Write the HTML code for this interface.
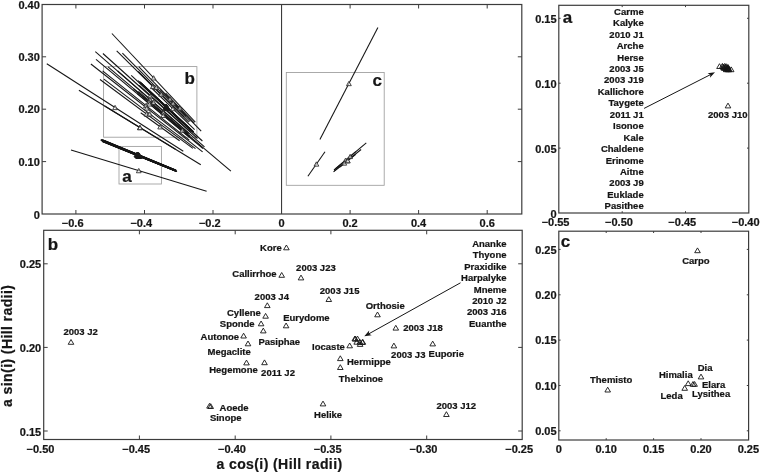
<!DOCTYPE html><html><head><meta charset="utf-8"><style>html,body{margin:0;padding:0;background:#fff}svg{display:block;will-change:transform;filter:grayscale(1)}text{font-family:"Liberation Sans",sans-serif;font-weight:bold}</style></head><body><svg width="760" height="472" viewBox="0 0 760 472"><rect width="760" height="472" fill="#fff"/><g fill="none" stroke="#9c9c9c" stroke-width="0.85">
<rect x="103.6" y="66.6" width="93.3" height="70.6"/>
<rect x="119" y="146.4" width="42.4" height="37.6"/>
<rect x="286.3" y="72.5" width="97.9" height="112.8"/>
</g>
<g stroke-linecap="butt"><line x1="195.3" y1="122.2" x2="111.9" y2="33.5" stroke="#151515" stroke-width="1.06"/><line x1="188.8" y1="122.2" x2="116.7" y2="50.8" stroke="#151515" stroke-width="1.06"/><line x1="190.1" y1="121.5" x2="122.4" y2="53.1" stroke="#151515" stroke-width="1.06"/><line x1="197.5" y1="138.5" x2="102.9" y2="53.5" stroke="#151515" stroke-width="1.06"/><line x1="184.1" y1="116.9" x2="138.3" y2="71.3" stroke="#151515" stroke-width="1.06"/><line x1="204.5" y1="146.9" x2="95.3" y2="51.7" stroke="#151515" stroke-width="1.06"/><line x1="190.2" y1="136.5" x2="108.0" y2="66.9" stroke="#151515" stroke-width="1.06"/><line x1="189.4" y1="133.6" x2="117.7" y2="71.0" stroke="#151515" stroke-width="1.06"/><line x1="203.0" y1="148.5" x2="96.0" y2="59.3" stroke="#151515" stroke-width="1.06"/><line x1="189.3" y1="140.2" x2="102.6" y2="70.8" stroke="#151515" stroke-width="1.06"/><line x1="202.6" y1="151.9" x2="90.9" y2="64.0" stroke="#151515" stroke-width="1.06"/><line x1="192.9" y1="148.4" x2="100.0" y2="79.5" stroke="#151515" stroke-width="1.06"/><line x1="195.5" y1="148.6" x2="103.9" y2="79.1" stroke="#151515" stroke-width="1.06"/><line x1="201.2" y1="131.1" x2="138.7" y2="66.6" stroke="#151515" stroke-width="1.06"/><line x1="186.2" y1="116.3" x2="160.2" y2="89.7" stroke="#151515" stroke-width="1.06"/><line x1="194.6" y1="129.7" x2="151.1" y2="87.5" stroke="#151515" stroke-width="1.06"/><line x1="194.1" y1="122.8" x2="165.6" y2="93.1" stroke="#151515" stroke-width="1.06"/><line x1="190.6" y1="131.8" x2="139.3" y2="85.4" stroke="#151515" stroke-width="1.06"/><line x1="188.1" y1="133.9" x2="138.4" y2="91.3" stroke="#151515" stroke-width="1.06"/><line x1="189.3" y1="137.1" x2="137.2" y2="93.7" stroke="#151515" stroke-width="1.06"/><line x1="200.8" y1="164.7" x2="78.9" y2="90.3" stroke="#151515" stroke-width="1.06"/><line x1="175.4" y1="149.2" x2="104.7" y2="106.0" stroke="#151515" stroke-width="1.06"/><line x1="179.6" y1="140.7" x2="140.7" y2="112.8" stroke="#151515" stroke-width="1.06"/><line x1="230.9" y1="171.2" x2="133.6" y2="89.0" stroke="#151515" stroke-width="1.06"/><line x1="183.3" y1="151.2" x2="46.8" y2="63.8" stroke="#151515" stroke-width="1.06"/><line x1="193.6" y1="132.2" x2="138.1" y2="80.6" stroke="#151515" stroke-width="1.06"/><line x1="192.8" y1="131.2" x2="139.8" y2="81.7" stroke="#151515" stroke-width="1.06"/><line x1="192.7" y1="132.0" x2="139.7" y2="82.9" stroke="#151515" stroke-width="1.06"/><line x1="193.2" y1="132.0" x2="140.4" y2="82.9" stroke="#151515" stroke-width="1.06"/><line x1="193.6" y1="132.0" x2="141.0" y2="82.9" stroke="#151515" stroke-width="1.06"/><line x1="202.4" y1="141.0" x2="131.2" y2="75.3" stroke="#151515" stroke-width="1.06"/><line x1="191.4" y1="130.1" x2="140.5" y2="82.8" stroke="#151515" stroke-width="1.06"/><line x1="193.5" y1="132.0" x2="140.9" y2="83.0" stroke="#151515" stroke-width="1.06"/><line x1="319.9" y1="139.6" x2="377.9" y2="27.4" stroke="#151515" stroke-width="1.06"/><line x1="307.9" y1="176.2" x2="325.0" y2="151.7" stroke="#151515" stroke-width="1.06"/><line x1="335.3" y1="168.9" x2="355.8" y2="151.7" stroke="#151515" stroke-width="1.06"/><line x1="334.0" y1="170.0" x2="366.3" y2="142.9" stroke="#151515" stroke-width="1.06"/><line x1="333.5" y1="171.9" x2="361.1" y2="149.5" stroke="#151515" stroke-width="1.06"/><line x1="339.9" y1="167.1" x2="355.8" y2="154.3" stroke="#151515" stroke-width="1.06"/><line x1="334.2" y1="171.2" x2="354.3" y2="154.9" stroke="#151515" stroke-width="1.06"/><line x1="174.3" y1="170.2" x2="100.8" y2="140.1" stroke="#151515" stroke-width="1.3"/><line x1="175.9" y1="170.5" x2="100.8" y2="139.6" stroke="#151515" stroke-width="1.3"/><line x1="174.7" y1="170.2" x2="102.3" y2="140.4" stroke="#151515" stroke-width="1.3"/><line x1="174.2" y1="170.1" x2="103.2" y2="141.1" stroke="#151515" stroke-width="1.3"/><line x1="175.7" y1="170.9" x2="101.9" y2="140.9" stroke="#151515" stroke-width="1.3"/><line x1="176.1" y1="170.4" x2="101.8" y2="139.7" stroke="#151515" stroke-width="1.3"/><line x1="174.7" y1="170.1" x2="103.5" y2="140.8" stroke="#151515" stroke-width="1.3"/><line x1="174.9" y1="170.6" x2="103.6" y2="141.6" stroke="#151515" stroke-width="1.3"/><line x1="176.5" y1="171.5" x2="102.2" y2="141.4" stroke="#151515" stroke-width="1.3"/><line x1="176.1" y1="170.3" x2="102.8" y2="140.0" stroke="#151515" stroke-width="1.3"/><line x1="174.8" y1="170.1" x2="104.3" y2="141.2" stroke="#151515" stroke-width="1.3"/><line x1="175.7" y1="170.8" x2="103.7" y2="141.3" stroke="#151515" stroke-width="1.3"/><line x1="176.9" y1="171.5" x2="102.6" y2="141.3" stroke="#151515" stroke-width="1.3"/><line x1="175.9" y1="170.4" x2="103.9" y2="140.6" stroke="#151515" stroke-width="1.3"/><line x1="175.1" y1="170.3" x2="104.8" y2="141.5" stroke="#151515" stroke-width="1.3"/><line x1="176.5" y1="171.2" x2="103.6" y2="141.4" stroke="#151515" stroke-width="1.3"/><line x1="177.0" y1="171.5" x2="103.2" y2="141.4" stroke="#151515" stroke-width="1.3"/><line x1="176.0" y1="170.9" x2="105.4" y2="142.0" stroke="#151515" stroke-width="1.3"/><line x1="206.6" y1="191.2" x2="71.0" y2="150.0" stroke="#151515" stroke-width="1.06"/></g>
<g><path d="M151.22 80.01L153.62 75.71L156.02 80.01Z" fill="#fff" fill-opacity="0.6" stroke="#262626" stroke-width="0.85" stroke-linejoin="miter"/><path d="M150.38 88.63L152.78 84.33L155.18 88.63Z" fill="#fff" fill-opacity="0.6" stroke="#262626" stroke-width="0.85" stroke-linejoin="miter"/><path d="M153.83 89.44L156.23 85.14L158.63 89.44Z" fill="#fff" fill-opacity="0.6" stroke="#262626" stroke-width="0.85" stroke-linejoin="miter"/><path d="M147.80 98.12L150.20 93.82L152.60 98.12Z" fill="#fff" fill-opacity="0.6" stroke="#262626" stroke-width="0.85" stroke-linejoin="miter"/><path d="M158.81 96.21L161.21 91.91L163.61 96.21Z" fill="#fff" fill-opacity="0.6" stroke="#262626" stroke-width="0.85" stroke-linejoin="miter"/><path d="M147.50 101.45L149.90 97.15L152.30 101.45Z" fill="#fff" fill-opacity="0.6" stroke="#262626" stroke-width="0.85" stroke-linejoin="miter"/><path d="M146.69 103.83L149.09 99.53L151.49 103.83Z" fill="#fff" fill-opacity="0.6" stroke="#262626" stroke-width="0.85" stroke-linejoin="miter"/><path d="M151.16 104.46L153.56 100.16L155.96 104.46Z" fill="#fff" fill-opacity="0.6" stroke="#262626" stroke-width="0.85" stroke-linejoin="miter"/><path d="M147.08 106.05L149.48 101.75L151.88 106.05Z" fill="#fff" fill-opacity="0.6" stroke="#262626" stroke-width="0.85" stroke-linejoin="miter"/><path d="M143.56 107.65L145.96 103.35L148.36 107.65Z" fill="#fff" fill-opacity="0.6" stroke="#262626" stroke-width="0.85" stroke-linejoin="miter"/><path d="M144.34 110.10L146.74 105.80L149.14 110.10Z" fill="#fff" fill-opacity="0.6" stroke="#262626" stroke-width="0.85" stroke-linejoin="miter"/><path d="M144.08 116.08L146.48 111.78L148.88 116.08Z" fill="#fff" fill-opacity="0.6" stroke="#262626" stroke-width="0.85" stroke-linejoin="miter"/><path d="M147.30 116.02L149.70 111.72L152.10 116.02Z" fill="#fff" fill-opacity="0.6" stroke="#262626" stroke-width="0.85" stroke-linejoin="miter"/><path d="M167.53 101.01L169.93 96.71L172.33 101.01Z" fill="#fff" fill-opacity="0.6" stroke="#262626" stroke-width="0.85" stroke-linejoin="miter"/><path d="M170.80 105.18L173.20 100.88L175.60 105.18Z" fill="#fff" fill-opacity="0.6" stroke="#262626" stroke-width="0.85" stroke-linejoin="miter"/><path d="M170.46 110.75L172.86 106.45L175.26 110.75Z" fill="#fff" fill-opacity="0.6" stroke="#262626" stroke-width="0.85" stroke-linejoin="miter"/><path d="M177.41 110.13L179.81 105.83L182.21 110.13Z" fill="#fff" fill-opacity="0.6" stroke="#262626" stroke-width="0.85" stroke-linejoin="miter"/><path d="M162.55 110.72L164.95 106.42L167.35 110.72Z" fill="#fff" fill-opacity="0.6" stroke="#262626" stroke-width="0.85" stroke-linejoin="miter"/><path d="M160.87 114.73L163.27 110.43L165.67 114.73Z" fill="#fff" fill-opacity="0.6" stroke="#262626" stroke-width="0.85" stroke-linejoin="miter"/><path d="M160.87 117.52L163.27 113.22L165.67 117.52Z" fill="#fff" fill-opacity="0.6" stroke="#262626" stroke-width="0.85" stroke-linejoin="miter"/><path d="M137.45 129.62L139.85 125.32L142.25 129.62Z" fill="#fff" fill-opacity="0.6" stroke="#262626" stroke-width="0.85" stroke-linejoin="miter"/><path d="M137.67 129.75L140.07 125.45L142.47 129.75Z" fill="#fff" fill-opacity="0.6" stroke="#262626" stroke-width="0.85" stroke-linejoin="miter"/><path d="M157.77 128.93L160.17 124.63L162.57 128.93Z" fill="#fff" fill-opacity="0.6" stroke="#262626" stroke-width="0.85" stroke-linejoin="miter"/><path d="M179.86 132.25L182.26 127.95L184.66 132.25Z" fill="#fff" fill-opacity="0.6" stroke="#262626" stroke-width="0.85" stroke-linejoin="miter"/><path d="M112.66 109.63L115.06 105.33L117.46 109.63Z" fill="#fff" fill-opacity="0.6" stroke="#262626" stroke-width="0.85" stroke-linejoin="miter"/><path d="M163.36 108.66L165.86 104.16L168.36 108.66Z" fill="none" stroke="#1a1a1a" stroke-width="1.0" stroke-linejoin="miter"/><path d="M163.85 108.66L166.35 104.16L168.85 108.66Z" fill="none" stroke="#1a1a1a" stroke-width="1.0" stroke-linejoin="miter"/><path d="M163.70 109.69L166.20 105.19L168.70 109.69Z" fill="none" stroke="#1a1a1a" stroke-width="1.0" stroke-linejoin="miter"/><path d="M164.27 109.69L166.77 105.19L169.27 109.69Z" fill="none" stroke="#1a1a1a" stroke-width="1.0" stroke-linejoin="miter"/><path d="M164.79 109.69L167.29 105.19L169.79 109.69Z" fill="none" stroke="#1a1a1a" stroke-width="1.0" stroke-linejoin="miter"/><path d="M164.31 110.38L166.81 105.88L169.31 110.38Z" fill="none" stroke="#1a1a1a" stroke-width="1.0" stroke-linejoin="miter"/><path d="M163.47 108.69L165.97 104.19L168.47 108.69Z" fill="none" stroke="#1a1a1a" stroke-width="1.0" stroke-linejoin="miter"/><path d="M164.72 109.76L167.22 105.26L169.72 109.76Z" fill="none" stroke="#1a1a1a" stroke-width="1.0" stroke-linejoin="miter"/><path d="M346.50 85.67L348.90 81.37L351.30 85.67Z" fill="#fff" fill-opacity="0.6" stroke="#262626" stroke-width="0.85" stroke-linejoin="miter"/><path d="M314.01 166.15L316.41 161.85L318.81 166.15Z" fill="#fff" fill-opacity="0.6" stroke="#262626" stroke-width="0.85" stroke-linejoin="miter"/><path d="M343.13 162.45L345.53 158.15L347.93 162.45Z" fill="#fff" fill-opacity="0.6" stroke="#262626" stroke-width="0.85" stroke-linejoin="miter"/><path d="M347.76 158.58L350.16 154.28L352.56 158.58Z" fill="#fff" fill-opacity="0.6" stroke="#262626" stroke-width="0.85" stroke-linejoin="miter"/><path d="M344.87 162.85L347.27 158.55L349.67 162.85Z" fill="#fff" fill-opacity="0.6" stroke="#262626" stroke-width="0.85" stroke-linejoin="miter"/><path d="M345.45 162.85L347.85 158.55L350.25 162.85Z" fill="#fff" fill-opacity="0.6" stroke="#262626" stroke-width="0.85" stroke-linejoin="miter"/><path d="M341.87 165.17L344.27 160.87L346.67 165.17Z" fill="#fff" fill-opacity="0.6" stroke="#262626" stroke-width="0.85" stroke-linejoin="miter"/><path d="M133.98 156.95L136.48 152.45L138.98 156.95Z" fill="none" stroke="#1a1a1a" stroke-width="1.0" stroke-linejoin="miter"/><path d="M134.76 156.83L137.26 152.33L139.76 156.83Z" fill="none" stroke="#1a1a1a" stroke-width="1.0" stroke-linejoin="miter"/><path d="M134.92 157.11L137.42 152.61L139.92 157.11Z" fill="none" stroke="#1a1a1a" stroke-width="1.0" stroke-linejoin="miter"/><path d="M135.08 157.39L137.58 152.89L140.08 157.39Z" fill="none" stroke="#1a1a1a" stroke-width="1.0" stroke-linejoin="miter"/><path d="M135.25 157.71L137.75 153.21L140.25 157.71Z" fill="none" stroke="#1a1a1a" stroke-width="1.0" stroke-linejoin="miter"/><path d="M135.41 156.83L137.91 152.33L140.41 156.83Z" fill="none" stroke="#1a1a1a" stroke-width="1.0" stroke-linejoin="miter"/><path d="M135.54 157.23L138.04 152.73L140.54 157.23Z" fill="none" stroke="#1a1a1a" stroke-width="1.0" stroke-linejoin="miter"/><path d="M135.68 157.96L138.18 153.46L140.68 157.96Z" fill="none" stroke="#1a1a1a" stroke-width="1.0" stroke-linejoin="miter"/><path d="M135.79 158.24L138.29 153.74L140.79 158.24Z" fill="none" stroke="#1a1a1a" stroke-width="1.0" stroke-linejoin="miter"/><path d="M135.90 156.99L138.40 152.49L140.90 156.99Z" fill="none" stroke="#1a1a1a" stroke-width="1.0" stroke-linejoin="miter"/><path d="M136.00 157.47L138.50 152.97L141.00 157.47Z" fill="none" stroke="#1a1a1a" stroke-width="1.0" stroke-linejoin="miter"/><path d="M136.11 157.88L138.61 153.38L141.11 157.88Z" fill="none" stroke="#1a1a1a" stroke-width="1.0" stroke-linejoin="miter"/><path d="M136.22 158.24L138.72 153.74L141.22 158.24Z" fill="none" stroke="#1a1a1a" stroke-width="1.0" stroke-linejoin="miter"/><path d="M136.30 157.31L138.80 152.81L141.30 157.31Z" fill="none" stroke="#1a1a1a" stroke-width="1.0" stroke-linejoin="miter"/><path d="M136.38 157.71L138.88 153.21L141.38 157.71Z" fill="none" stroke="#1a1a1a" stroke-width="1.0" stroke-linejoin="miter"/><path d="M136.46 158.12L138.96 153.62L141.46 158.12Z" fill="none" stroke="#1a1a1a" stroke-width="1.0" stroke-linejoin="miter"/><path d="M136.54 158.24L139.04 153.74L141.54 158.24Z" fill="none" stroke="#1a1a1a" stroke-width="1.0" stroke-linejoin="miter"/><path d="M137.14 158.24L139.64 153.74L142.14 158.24Z" fill="none" stroke="#1a1a1a" stroke-width="1.0" stroke-linejoin="miter"/><path d="M136.37 172.75L138.77 168.45L141.17 172.75Z" fill="#fff" fill-opacity="0.6" stroke="#262626" stroke-width="0.85" stroke-linejoin="miter"/></g>
<rect x="42.1" y="4.5" width="479.69999999999993" height="209.5" fill="none" stroke="#3c3c3c" stroke-width="1.2"/><path d="M75.9 214v-4M75.9 4.5v4M144.5 214v-4M144.5 4.5v4M213.0 214v-4M213.0 4.5v4M350.1 214v-4M350.1 4.5v4M418.6 214v-4M418.6 4.5v4M487.2 214v-4M487.2 4.5v4M42.1 161.6h4M521.8 161.6h-4M42.1 109.2h4M521.8 109.2h-4M42.1 56.8h4M521.8 56.8h-4" stroke="#3c3c3c" stroke-width="1" fill="none"/>
<line x1="281.55" y1="4.5" x2="281.55" y2="214" stroke="#3c3c3c" stroke-width="1.1"/>
<rect x="558.8" y="5.3" width="190.0" height="207.7" fill="none" stroke="#3c3c3c" stroke-width="1.2"/><path d="M622.2 213v-1.8M622.2 5.3v1.8M685.5 213v-1.8M685.5 5.3v1.8M558.8 148.1h1.8M748.8 148.1h-1.8M558.8 83.2h1.8M748.8 83.2h-1.8M558.8 18.3h1.8M748.8 18.3h-1.8" stroke="#3c3c3c" stroke-width="1" fill="none"/>
<rect x="43.7" y="230.3" width="478.50000000000006" height="209.2" fill="none" stroke="#3c3c3c" stroke-width="1.2"/><path d="M139.4 439.5v-4M139.4 230.3v4M235.2 439.5v-4M235.2 230.3v4M330.9 439.5v-4M330.9 230.3v4M426.7 439.5v-4M426.7 230.3v4M43.7 263.8h4M522.2 263.8h-4M43.7 347.4h4M522.2 347.4h-4M43.7 431.0h4M522.2 431.0h-4" stroke="#3c3c3c" stroke-width="1" fill="none"/>
<rect x="558.8" y="231.2" width="189.80000000000007" height="208.8" fill="none" stroke="#3c3c3c" stroke-width="1.2"/><path d="M606.2 440v-1.8M606.2 231.2v1.8M653.6 440v-1.8M653.6 231.2v1.8M701.0 440v-1.8M701.0 231.2v1.8M558.8 249.4h1.8M748.6 249.4h-1.8M558.8 294.8h1.8M748.6 294.8h-1.8M558.8 340.1h1.8M748.6 340.1h-1.8M558.8 385.5h1.8M748.6 385.5h-1.8M558.8 430.8h1.8M748.6 430.8h-1.8" stroke="#3c3c3c" stroke-width="1" fill="none"/>
<path d="M283.60 249.80L286.40 245.00L289.20 249.80Z" fill="none" stroke="#151515" stroke-width="0.9" stroke-linejoin="miter"/>
<path d="M278.90 277.30L281.70 272.50L284.50 277.30Z" fill="none" stroke="#151515" stroke-width="0.9" stroke-linejoin="miter"/>
<path d="M298.20 279.90L301.00 275.10L303.80 279.90Z" fill="none" stroke="#151515" stroke-width="0.9" stroke-linejoin="miter"/>
<path d="M264.50 307.60L267.30 302.80L270.10 307.60Z" fill="none" stroke="#151515" stroke-width="0.9" stroke-linejoin="miter"/>
<path d="M326.00 301.50L328.80 296.70L331.60 301.50Z" fill="none" stroke="#151515" stroke-width="0.9" stroke-linejoin="miter"/>
<path d="M262.80 318.20L265.60 313.40L268.40 318.20Z" fill="none" stroke="#151515" stroke-width="0.9" stroke-linejoin="miter"/>
<path d="M258.30 325.80L261.10 321.00L263.90 325.80Z" fill="none" stroke="#151515" stroke-width="0.9" stroke-linejoin="miter"/>
<path d="M283.30 327.80L286.10 323.00L288.90 327.80Z" fill="none" stroke="#151515" stroke-width="0.9" stroke-linejoin="miter"/>
<path d="M260.50 332.90L263.30 328.10L266.10 332.90Z" fill="none" stroke="#151515" stroke-width="0.9" stroke-linejoin="miter"/>
<path d="M240.80 338.00L243.60 333.20L246.40 338.00Z" fill="none" stroke="#151515" stroke-width="0.9" stroke-linejoin="miter"/>
<path d="M245.20 345.80L248.00 341.00L250.80 345.80Z" fill="none" stroke="#151515" stroke-width="0.9" stroke-linejoin="miter"/>
<path d="M243.70 364.90L246.50 360.10L249.30 364.90Z" fill="none" stroke="#151515" stroke-width="0.9" stroke-linejoin="miter"/>
<path d="M261.70 364.70L264.50 359.90L267.30 364.70Z" fill="none" stroke="#151515" stroke-width="0.9" stroke-linejoin="miter"/>
<path d="M374.70 316.80L377.50 312.00L380.30 316.80Z" fill="none" stroke="#151515" stroke-width="0.9" stroke-linejoin="miter"/>
<path d="M393.00 330.10L395.80 325.30L398.60 330.10Z" fill="none" stroke="#151515" stroke-width="0.9" stroke-linejoin="miter"/>
<path d="M391.10 347.90L393.90 343.10L396.70 347.90Z" fill="none" stroke="#151515" stroke-width="0.9" stroke-linejoin="miter"/>
<path d="M429.90 345.90L432.70 341.10L435.50 345.90Z" fill="none" stroke="#151515" stroke-width="0.9" stroke-linejoin="miter"/>
<path d="M346.90 347.80L349.70 343.00L352.50 347.80Z" fill="none" stroke="#151515" stroke-width="0.9" stroke-linejoin="miter"/>
<path d="M337.50 360.60L340.30 355.80L343.10 360.60Z" fill="none" stroke="#151515" stroke-width="0.9" stroke-linejoin="miter"/>
<path d="M337.50 369.50L340.30 364.70L343.10 369.50Z" fill="none" stroke="#151515" stroke-width="0.9" stroke-linejoin="miter"/>
<path d="M206.70 408.10L209.50 403.30L212.30 408.10Z" fill="none" stroke="#151515" stroke-width="0.9" stroke-linejoin="miter"/>
<path d="M207.90 408.50L210.70 403.70L213.50 408.50Z" fill="none" stroke="#151515" stroke-width="0.9" stroke-linejoin="miter"/>
<path d="M320.20 405.90L323.00 401.10L325.80 405.90Z" fill="none" stroke="#151515" stroke-width="0.9" stroke-linejoin="miter"/>
<path d="M443.60 416.50L446.40 411.70L449.20 416.50Z" fill="none" stroke="#151515" stroke-width="0.9" stroke-linejoin="miter"/>
<path d="M68.20 344.30L71.00 339.50L73.80 344.30Z" fill="none" stroke="#151515" stroke-width="0.9" stroke-linejoin="miter"/>
<path d="M352.00 340.90L354.80 336.10L357.60 340.90Z" fill="none" stroke="#151515" stroke-width="0.9" stroke-linejoin="miter"/>
<path d="M354.70 340.90L357.50 336.10L360.30 340.90Z" fill="none" stroke="#151515" stroke-width="0.9" stroke-linejoin="miter"/>
<path d="M353.90 344.20L356.70 339.40L359.50 344.20Z" fill="none" stroke="#151515" stroke-width="0.9" stroke-linejoin="miter"/>
<path d="M357.10 344.20L359.90 339.40L362.70 344.20Z" fill="none" stroke="#151515" stroke-width="0.9" stroke-linejoin="miter"/>
<path d="M360.00 344.20L362.80 339.40L365.60 344.20Z" fill="none" stroke="#151515" stroke-width="0.9" stroke-linejoin="miter"/>
<path d="M357.30 346.40L360.10 341.60L362.90 346.40Z" fill="none" stroke="#151515" stroke-width="0.9" stroke-linejoin="miter"/>
<path d="M352.60 341.00L355.40 336.20L358.20 341.00Z" fill="none" stroke="#151515" stroke-width="0.9" stroke-linejoin="miter"/>
<path d="M359.60 344.40L362.40 339.60L365.20 344.40Z" fill="none" stroke="#151515" stroke-width="0.9" stroke-linejoin="miter"/>
<path d="M694.70 252.70L697.50 247.90L700.30 252.70Z" fill="none" stroke="#151515" stroke-width="0.9" stroke-linejoin="miter"/>
<path d="M604.90 392.00L607.70 387.20L610.50 392.00Z" fill="none" stroke="#151515" stroke-width="0.9" stroke-linejoin="miter"/>
<path d="M685.40 385.60L688.20 380.80L691.00 385.60Z" fill="none" stroke="#151515" stroke-width="0.9" stroke-linejoin="miter"/>
<path d="M698.20 378.90L701.00 374.10L703.80 378.90Z" fill="none" stroke="#151515" stroke-width="0.9" stroke-linejoin="miter"/>
<path d="M690.20 386.30L693.00 381.50L695.80 386.30Z" fill="none" stroke="#151515" stroke-width="0.9" stroke-linejoin="miter"/>
<path d="M691.80 386.30L694.60 381.50L697.40 386.30Z" fill="none" stroke="#151515" stroke-width="0.9" stroke-linejoin="miter"/>
<path d="M681.90 390.30L684.70 385.50L687.50 390.30Z" fill="none" stroke="#151515" stroke-width="0.9" stroke-linejoin="miter"/>
<path d="M716.70 68.50L719.50 63.70L722.30 68.50Z" fill="none" stroke="#151515" stroke-width="0.9" stroke-linejoin="miter"/>
<path d="M719.60 68.20L722.40 63.40L725.20 68.20Z" fill="none" stroke="#151515" stroke-width="0.9" stroke-linejoin="miter"/>
<path d="M720.20 68.90L723.00 64.10L725.80 68.90Z" fill="none" stroke="#151515" stroke-width="0.9" stroke-linejoin="miter"/>
<path d="M720.80 69.60L723.60 64.80L726.40 69.60Z" fill="none" stroke="#151515" stroke-width="0.9" stroke-linejoin="miter"/>
<path d="M721.40 70.40L724.20 65.60L727.00 70.40Z" fill="none" stroke="#151515" stroke-width="0.9" stroke-linejoin="miter"/>
<path d="M722.00 68.20L724.80 63.40L727.60 68.20Z" fill="none" stroke="#151515" stroke-width="0.9" stroke-linejoin="miter"/>
<path d="M722.50 69.20L725.30 64.40L728.10 69.20Z" fill="none" stroke="#151515" stroke-width="0.9" stroke-linejoin="miter"/>
<path d="M723.00 71.00L725.80 66.20L728.60 71.00Z" fill="none" stroke="#151515" stroke-width="0.9" stroke-linejoin="miter"/>
<path d="M723.40 71.70L726.20 66.90L729.00 71.70Z" fill="none" stroke="#151515" stroke-width="0.9" stroke-linejoin="miter"/>
<path d="M723.80 68.60L726.60 63.80L729.40 68.60Z" fill="none" stroke="#151515" stroke-width="0.9" stroke-linejoin="miter"/>
<path d="M724.20 69.80L727.00 65.00L729.80 69.80Z" fill="none" stroke="#151515" stroke-width="0.9" stroke-linejoin="miter"/>
<path d="M724.60 70.80L727.40 66.00L730.20 70.80Z" fill="none" stroke="#151515" stroke-width="0.9" stroke-linejoin="miter"/>
<path d="M725.00 71.70L727.80 66.90L730.60 71.70Z" fill="none" stroke="#151515" stroke-width="0.9" stroke-linejoin="miter"/>
<path d="M725.30 69.40L728.10 64.60L730.90 69.40Z" fill="none" stroke="#151515" stroke-width="0.9" stroke-linejoin="miter"/>
<path d="M725.60 70.40L728.40 65.60L731.20 70.40Z" fill="none" stroke="#151515" stroke-width="0.9" stroke-linejoin="miter"/>
<path d="M725.90 71.40L728.70 66.60L731.50 71.40Z" fill="none" stroke="#151515" stroke-width="0.9" stroke-linejoin="miter"/>
<path d="M726.20 71.70L729.00 66.90L731.80 71.70Z" fill="none" stroke="#151515" stroke-width="0.9" stroke-linejoin="miter"/>
<path d="M728.40 71.70L731.20 66.90L734.00 71.70Z" fill="none" stroke="#151515" stroke-width="0.9" stroke-linejoin="miter"/>
<path d="M725.20 107.90L728.00 103.10L730.80 107.90Z" fill="none" stroke="#151515" stroke-width="0.9" stroke-linejoin="miter"/>
<line x1="460.5" y1="282.8" x2="368.7" y2="333.9" stroke="#151515" stroke-width="1"/><path d="M364.3 336.3L369.2 330.6L368.8 333.8L371.7 335.2Z" fill="#151515"/>
<line x1="644.1" y1="108.4" x2="710.5" y2="74.6" stroke="#151515" stroke-width="1"/><path d="M715.0 72.3L709.9 77.8L710.4 74.7L707.6 73.2Z" fill="#151515"/>
<g font-family="Liberation Sans, sans-serif" font-weight="bold" fill="#151515" stroke="#151515" stroke-width="0.22"><text x="39.8" y="9.2" font-size="11" text-anchor="end">0.40</text><text x="39.8" y="60.9" font-size="11" text-anchor="end">0.30</text><text x="39.8" y="113.3" font-size="11" text-anchor="end">0.20</text><text x="39.8" y="165.7" font-size="11" text-anchor="end">0.10</text><text x="39.8" y="218.5" font-size="11" text-anchor="end">0</text><text x="83.5" y="227.0" font-size="11" text-anchor="end">−0.6</text><text x="152.1" y="227.0" font-size="11" text-anchor="end">−0.4</text><text x="220.6" y="227.0" font-size="11" text-anchor="end">−0.2</text><text x="281.6" y="227.0" font-size="11" text-anchor="middle">0</text><text x="350.1" y="227.0" font-size="11" text-anchor="middle">0.2</text><text x="418.6" y="227.0" font-size="11" text-anchor="middle">0.4</text><text x="487.2" y="227.0" font-size="11" text-anchor="middle">0.6</text><text x="569.5" y="225.8" font-size="11" text-anchor="end">−0.55</text><text x="632.9" y="225.8" font-size="11" text-anchor="end">−0.50</text><text x="696.2" y="225.8" font-size="11" text-anchor="end">−0.45</text><text x="759.6" y="225.8" font-size="11" text-anchor="end">−0.40</text><text x="556.6" y="217.6" font-size="11" text-anchor="end">0</text><text x="556.6" y="152.7" font-size="11" text-anchor="end">0.05</text><text x="556.6" y="87.8" font-size="11" text-anchor="end">0.10</text><text x="556.6" y="22.9" font-size="11" text-anchor="end">0.15</text><text x="54.4" y="452.6" font-size="11" text-anchor="end">−0.50</text><text x="150.1" y="452.6" font-size="11" text-anchor="end">−0.45</text><text x="245.9" y="452.6" font-size="11" text-anchor="end">−0.40</text><text x="341.6" y="452.6" font-size="11" text-anchor="end">−0.35</text><text x="437.4" y="452.6" font-size="11" text-anchor="end">−0.30</text><text x="533.1" y="452.6" font-size="11" text-anchor="end">−0.25</text><text x="41.2" y="268.4" font-size="11" text-anchor="end">0.25</text><text x="41.2" y="352.0" font-size="11" text-anchor="end">0.20</text><text x="41.2" y="435.6" font-size="11" text-anchor="end">0.15</text><text x="558.8" y="452.7" font-size="11" text-anchor="middle">0</text><text x="606.2" y="452.7" font-size="11" text-anchor="middle">0.10</text><text x="653.6" y="452.7" font-size="11" text-anchor="middle">0.15</text><text x="701.0" y="452.7" font-size="11" text-anchor="middle">0.20</text><text x="748.4" y="452.7" font-size="11" text-anchor="middle">0.25</text><text x="556.6" y="253.7" font-size="11" text-anchor="end">0.25</text><text x="556.6" y="299.1" font-size="11" text-anchor="end">0.20</text><text x="556.6" y="344.4" font-size="11" text-anchor="end">0.15</text><text x="556.6" y="389.8" font-size="11" text-anchor="end">0.10</text><text x="556.6" y="435.1" font-size="11" text-anchor="end">0.05</text><text x="562.7" y="23.0" font-size="17" text-anchor="start">a</text><text x="47.8" y="250.3" font-size="17" text-anchor="start">b</text><text x="560.8" y="247.2" font-size="17" text-anchor="start">c</text><text x="184.5" y="83.5" font-size="17" text-anchor="start">b</text><text x="122.2" y="182.0" font-size="17" text-anchor="start">a</text><text x="372.5" y="85.7" font-size="17" text-anchor="start">c</text><text x="279.5" y="468.7" font-size="14" text-anchor="middle" letter-spacing="0.41">a cos(i) (Hill radii)</text><text transform="translate(12.3,345.8) rotate(-90)" font-size="14" letter-spacing="0.41" text-anchor="middle">a sin(i) (Hill radii)</text><text x="643.7" y="14.7" font-size="9.5" text-anchor="end">Carme</text><text x="643.7" y="26.1" font-size="9.5" text-anchor="end">Kalyke</text><text x="643.7" y="37.6" font-size="9.5" text-anchor="end">2010 J1</text><text x="643.7" y="49.0" font-size="9.5" text-anchor="end">Arche</text><text x="643.7" y="60.5" font-size="9.5" text-anchor="end">Herse</text><text x="643.7" y="72.0" font-size="9.5" text-anchor="end">2003 J5</text><text x="643.7" y="83.4" font-size="9.5" text-anchor="end">2003 J19</text><text x="643.7" y="94.8" font-size="9.5" text-anchor="end">Kallichore</text><text x="643.7" y="106.3" font-size="9.5" text-anchor="end">Taygete</text><text x="643.7" y="117.8" font-size="9.5" text-anchor="end">2011 J1</text><text x="643.7" y="129.2" font-size="9.5" text-anchor="end">Isonoe</text><text x="643.7" y="140.6" font-size="9.5" text-anchor="end">Kale</text><text x="643.7" y="152.1" font-size="9.5" text-anchor="end">Chaldene</text><text x="643.7" y="163.5" font-size="9.5" text-anchor="end">Erinome</text><text x="643.7" y="175.0" font-size="9.5" text-anchor="end">Aitne</text><text x="643.7" y="186.4" font-size="9.5" text-anchor="end">2003 J9</text><text x="643.7" y="197.9" font-size="9.5" text-anchor="end">Euklade</text><text x="643.7" y="209.3" font-size="9.5" text-anchor="end">Pasithee</text><text x="707.9" y="118.4" font-size="9.5" text-anchor="start">2003 J10</text><text x="506.5" y="246.8" font-size="9.5" text-anchor="end">Ananke</text><text x="506.5" y="258.2" font-size="9.5" text-anchor="end">Thyone</text><text x="506.5" y="269.6" font-size="9.5" text-anchor="end">Praxidike</text><text x="506.5" y="281.1" font-size="9.5" text-anchor="end">Harpalyke</text><text x="506.5" y="292.5" font-size="9.5" text-anchor="end">Mneme</text><text x="506.5" y="303.9" font-size="9.5" text-anchor="end">2010 J2</text><text x="506.5" y="315.3" font-size="9.5" text-anchor="end">2003 J16</text><text x="506.5" y="326.7" font-size="9.5" text-anchor="end">Euanthe</text><text x="260.1" y="250.8" font-size="9.5" text-anchor="start">Kore</text><text x="232.3" y="277.0" font-size="9.5" text-anchor="start">Callirrhoe</text><text x="296.1" y="270.9" font-size="9.5" text-anchor="start">2003 J23</text><text x="254.6" y="299.9" font-size="9.5" text-anchor="start">2003 J4</text><text x="319.8" y="293.6" font-size="9.5" text-anchor="start">2003 J15</text><text x="227.0" y="315.6" font-size="9.5" text-anchor="start">Cyllene</text><text x="219.8" y="326.6" font-size="9.5" text-anchor="start">Sponde</text><text x="283.2" y="320.8" font-size="9.5" text-anchor="start">Eurydome</text><text x="200.6" y="339.8" font-size="9.5" text-anchor="start">Autonoe</text><text x="258.4" y="344.5" font-size="9.5" text-anchor="start">Pasiphae</text><text x="207.5" y="355.1" font-size="9.5" text-anchor="start">Megaclite</text><text x="209.2" y="373.1" font-size="9.5" text-anchor="start">Hegemone</text><text x="261.1" y="376.3" font-size="9.5" text-anchor="start">2011 J2</text><text x="312.1" y="349.7" font-size="9.5" text-anchor="start">Iocaste</text><text x="365.7" y="308.6" font-size="9.5" text-anchor="start">Orthosie</text><text x="403.2" y="331.3" font-size="9.5" text-anchor="start">2003 J18</text><text x="391.1" y="358.4" font-size="9.5" text-anchor="start">2003 J3</text><text x="428.6" y="356.5" font-size="9.5" text-anchor="start">Euporie</text><text x="347.0" y="365.2" font-size="9.5" text-anchor="start">Hermippe</text><text x="338.8" y="381.5" font-size="9.5" text-anchor="start">Thelxinoe</text><text x="219.6" y="410.5" font-size="9.5" text-anchor="start">Aoede</text><text x="209.9" y="421.0" font-size="9.5" text-anchor="start">Sinope</text><text x="314.1" y="417.9" font-size="9.5" text-anchor="start">Helike</text><text x="436.5" y="408.8" font-size="9.5" text-anchor="start">2003 J12</text><text x="63.4" y="335.3" font-size="9.5" text-anchor="start">2003 J2</text><text x="682.2" y="263.6" font-size="9.5" text-anchor="start">Carpo</text><text x="590.0" y="383.2" font-size="9.5" text-anchor="start">Themisto</text><text x="658.9" y="377.7" font-size="9.5" text-anchor="start">Himalia</text><text x="697.7" y="371.3" font-size="9.5" text-anchor="start">Dia</text><text x="702.0" y="388.4" font-size="9.5" text-anchor="start">Elara</text><text x="660.5" y="398.6" font-size="9.5" text-anchor="start">Leda</text><text x="692.0" y="396.7" font-size="9.5" text-anchor="start">Lysithea</text></g></svg></body></html>
